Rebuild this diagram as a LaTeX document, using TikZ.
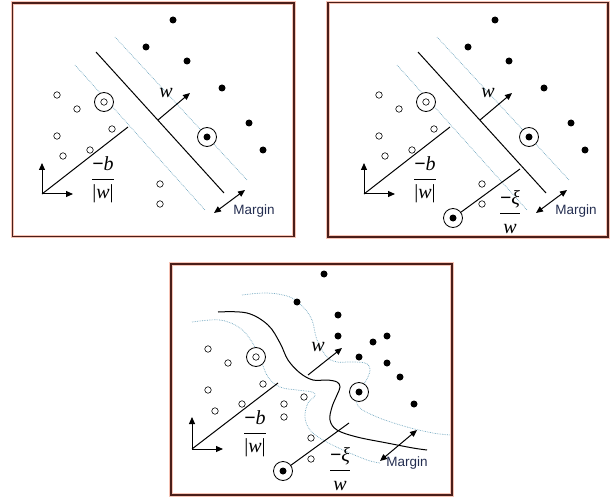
\documentclass[tikz,border=0pt]{standalone}
\usepackage{fontspec}
\setsansfont{Liberation Sans}
\newfontfamily\tnr{Liberation Serif}
\usepackage{tikz}
\usepackage{amsmath}
\usetikzlibrary{arrows.meta}
\definecolor{framecol}{RGB}{75, 30, 25}
\definecolor{framehalo}{RGB}{246, 196, 182}
\definecolor{marginblue}{RGB}{110, 165, 190}
\definecolor{margintext}{RGB}{35, 45, 80}
\tikzset{
    panel/.style={draw=framecol, line width=1.3pt, preaction={draw=framehalo, line width=3.4pt}},
    posdot/.style={circle, fill=black, inner sep=0pt, minimum size=7pt},
    negdot/.style={circle, draw=black, fill=white, line width=0.6pt, inner sep=0pt, minimum size=6.5pt},
    supring/.style={circle, draw=black, fill=white, line width=0.8pt, inner sep=0pt, minimum size=19pt},
    hyper/.style={draw=black, line width=1pt},
    marginline/.style={draw=marginblue, densely dotted, line width=0.7pt},
    vec/.style={-{Triangle[length=7pt, width=6pt]}, line width=1pt},
    dblvec/.style={{Triangle[length=7pt, width=6pt]}-{Triangle[length=7pt, width=6pt]}, line width=1pt},
    mathlabel/.style={font=\fontsize{20}{24}\selectfont\tnr\itshape, inner sep=0pt},
    marginlabel/.style={font=\fontsize{13.5}{15}\selectfont\sffamily, text=margintext, inner sep=0pt}
}

% common content of the two linear panels
\newcommand{\linearpanel}{%
    % margins and separating hyperplane
    \draw[marginline] (75,65) -- (205,210);
    \draw[marginline] (115,37) -- (247,180);
    \draw[hyper] (96,52) -- (224,193);
    % class +1
    \foreach \p [count=\i] in {(173,20),(146,47),(187,61),(222,88),(249,123),(263,150)}
        \node[posdot] (pos\i) at \p {};
    % class -1
    \foreach \p [count=\i] in {(57,95),(77,109),(57,136),(63,156),(90,150),(112,129),(160,184),(160,204)}
        \node[negdot] (neg\i) at \p {};
    % support vectors
    \node[supring] (sv1) at (104,102) {};
    \node[negdot] (sv1c) at (sv1) {};
    \node[supring] (sv2) at (207,137) {};
    \node[posdot] (sv2c) at (sv2) {};
    % axes and offset
    \coordinate (o) at (42,194);
    \coordinate (ytip) at (42,163);
    \coordinate (xtip) at (73,194);
    \coordinate (bend) at (128,127);
    \draw[vec] (o) -- (ytip);
    \draw[vec] (o) -- (xtip);
    \draw[hyper] (o) -- (bend);
    \node[mathlabel] (bfrac) at (103,180) {$\displaystyle\frac{\text{\upshape\bfseries −\mdseries\itshape b}}{\text{\upshape|\itshape w\upshape|}}$};
    % normal vector
    \coordinate (wfoot) at (158,120);
    \coordinate (wtip) at (190,93);
    \draw[vec] (wfoot) -- (wtip);
    \node[mathlabel] (wlab) at (166,93) {w};
    % margin
    \coordinate (m1) at (214,213);
    \coordinate (m2) at (245,190);
    \draw[dblvec] (m1) -- (m2);
    \node[marginlabel] (mlab) at (254,211) {Margin};
}

\begin{document}
\begin{tikzpicture}[x=1pt, y=-1pt]

    \useasboundingbox (0,0) rectangle (610,497);

    % Panel 1: hard margin
    \begin{scope}[name prefix=a-]
        \draw[panel] (12.5,3) rectangle (294,236.5);
        \linearpanel
    \end{scope}

    % Panel 2: soft margin
    \begin{scope}[shift={(322,0)}, name prefix=b-]
        \draw[panel] (6,2.5) rectangle (286,237);
        \linearpanel
        \node[supring] (sv3) at (131,218) {};
        \node[posdot] (sv3c) at (sv3) {};
        \coordinate (xiend) at (198,169);
        \draw[hyper] (sv3) -- (xiend);
        \node[mathlabel] (xifrac) at (188,212) {$\displaystyle\frac{\text{\upshape\bfseries −\mdseries\itshape ξ}}{\text{w}}$};
    \end{scope}

    % Panel 3: nonlinear boundary
    \begin{scope}[shift={(150,255)}, name prefix=c-]
        \draw[panel] (21,9) rectangle (302,240);
        % margins and boundary
        \draw[marginline] plot[smooth, tension=0.6] coordinates {(42,67) (70,65) (90,73) (102,87) (110,103) (118,122) (130,132) (147,135) (162,137) (165,141) (158,148) (155,162) (160,175) (173,185) (193,195) (217,205) (230,208)};
        \draw[marginline] plot[smooth, tension=0.6] coordinates {(92,40) (117,38) (140,42) (153,52) (162,65) (167,85) (177,102) (187,107) (200,107) (215,108) (220,114) (217,124) (209,137) (208,151) (227,162) (257,172) (283,178) (300,180)};
        \draw[hyper] plot[smooth, tension=0.6] coordinates {(68,57) (97,58) (118,70) (130,88) (138,105) (150,118) (163,125) (177,125) (187,127) (190,132) (187,140) (182,152) (180,165) (187,175) (207,182) (237,188) (263,193) (277,195)};
        % class +1
        \foreach \p [count=\i] in {(174,19),(147,47),(188,60),(188,81),(237,81),(223,87),(209,102),(237,108),(250,122),(264,149)}
            \node[posdot] (pos\i) at \p {};
        % class -1
        \foreach \p [count=\i] in {(58,94),(78,108),(58,135),(65,156),(92,149),(113,129),(154,142),(134,149),(134,162),(161,183),(161,204)}
            \node[negdot] (neg\i) at \p {};
        % support vectors
        \node[supring] (sv1) at (106,102) {};
        \node[negdot] (sv1c) at (sv1) {};
        \node[supring] (sv2) at (209,137) {};
        \node[posdot] (sv2c) at (sv2) {};
        \node[supring] (sv3) at (133,216) {};
        \node[posdot] (sv3c) at (sv3) {};
        % axes and offset
        \coordinate (o) at (42,194);
        \coordinate (ytip) at (42,162);
        \coordinate (xtip) at (73,194);
        \coordinate (bend) at (128,128);
        \draw[vec] (o) -- (ytip);
        \draw[vec] (o) -- (xtip);
        \draw[hyper] (o) -- (bend);
        \node[mathlabel] (bfrac) at (105,179) {$\displaystyle\frac{\text{\upshape\bfseries −\mdseries\itshape b}}{\text{\upshape|\itshape w\upshape|}}$};
        % normal vector and slack
        \coordinate (wfoot) at (158,120);
        \coordinate (wtip) at (192,93);
        \draw[vec] (wfoot) -- (wtip);
        \node[mathlabel] (wlab) at (168,92) {w};
        \coordinate (xiend) at (199,168);
        \draw[hyper] (sv3) -- (xiend);
        \node[mathlabel] (xifrac) at (190,214) {$\displaystyle\frac{\text{\upshape\bfseries −\mdseries\itshape ξ}}{\text{w}}$};
        % margin
        \coordinate (m1) at (230,206);
        \coordinate (m2) at (267,175);
        \draw[dblvec] (m1) -- (m2);
        \node[marginlabel] (mlab) at (257,208) {Margin};
    \end{scope}

\end{tikzpicture}
\end{document}
